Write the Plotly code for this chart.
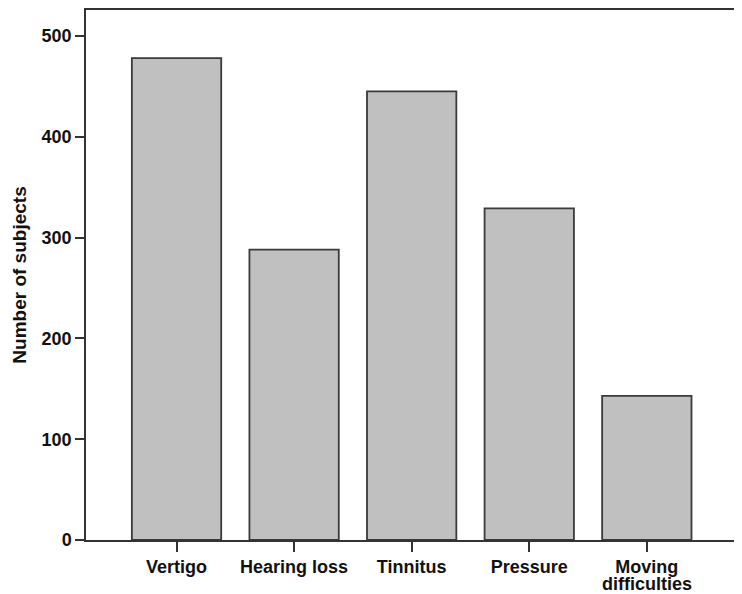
import plotly.graph_objects as go

categories = ["Vertigo", "Hearing loss", "Tinnitus", "Pressure", "Moving difficulties"]
values = [478, 288, 445, 329, 143]
y_ticks = [0, 100, 200, 300, 400, 500]

# last label wraps onto two lines in the reference
tick_text = [c if c != "Moving difficulties" else "Moving" for c in categories]

fig = go.Figure(go.Bar(
    x=list(range(len(categories))),
    y=values,
    width=0.76,
    marker=dict(color="#c0c0c0", line=dict(color="#3a3a3a", width=1.8)),
))

font_family = "Arial, Liberation Sans, sans-serif"
fig.add_annotation(
    x=len(categories) - 1, xref="x", y=0, yref="paper",
    text="difficulties", showarrow=False, yanchor="top", yshift=-33,
    borderpad=0,
    font=dict(size=18, family=font_family, weight="bold", color="#111111"),
)

# the page body adds an 8px offset, so the figure is sized to fit the window
fig.update_layout(
    width=734, height=586,
    margin=dict(l=78, r=7, t=2, b=54, autoexpand=False),
    plot_bgcolor="white", paper_bgcolor="white",
    showlegend=False,
    font=dict(family=font_family, color="#111111"),
    xaxis=dict(
        range=[-0.77, 4.75],
        tickmode="array",
        tickvals=list(range(len(categories))),
        ticktext=tick_text,
        ticks="outside", ticklen=10, tickwidth=1.5, tickcolor="#333333",
        showline=True, linecolor="#333333", linewidth=1.5, mirror=True,
        showgrid=False, zeroline=False, automargin=False,
        tickfont=dict(size=18, family=font_family, weight="bold"),
    ),
    yaxis=dict(
        range=[0, 525.8],
        tickmode="array",
        tickvals=y_ticks,
        ticks="outside", ticklen=9, tickwidth=1.5, tickcolor="#333333",
        showline=True, linecolor="#333333", linewidth=1.5, mirror=True,
        showgrid=False, zeroline=False, automargin=False,
        tickfont=dict(size=18, family=font_family, weight="bold"),
        title=dict(text="Number of subjects", standoff=10,
                   font=dict(size=19, family=font_family, weight="bold")),
    ),
)

fig.write_html("out.html")
